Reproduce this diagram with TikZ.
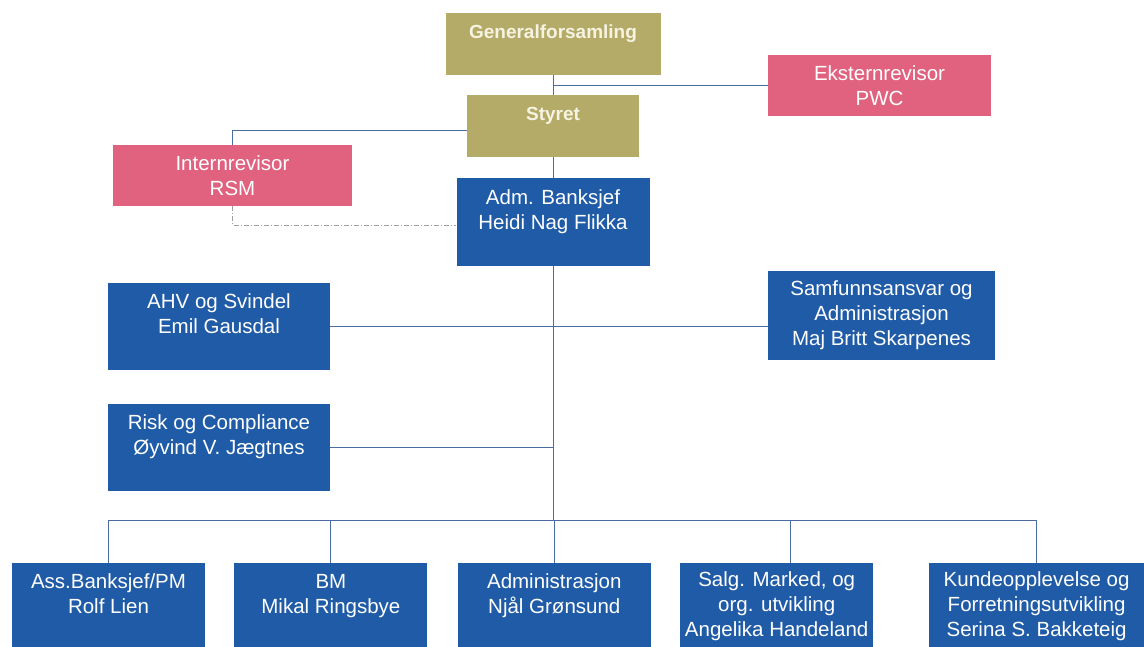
\documentclass[tikz,border=0pt]{standalone}
\usepackage{fontspec}
\setmainfont{Liberation Sans}
\usetikzlibrary{positioning}
\definecolor{gfolive}{RGB}{180,171,104}
\definecolor{revpink}{RGB}{224,98,127}
\definecolor{bankblue}{RGB}{31,91,166}
\definecolor{linkblue}{RGB}{74,108,160}
\definecolor{cream}{RGB}{246,243,226}

\begin{document}
\begin{tikzpicture}[x=1pt,y=-1pt,
    orgbox/.style={rectangle, align=center, text=white, inner sep=0pt, font=\fontsize{20.5}{25}\selectfont},
    board/.style={orgbox, fill=gfolive, text=cream, minimum height=62pt, font=\bfseries\fontsize{19}{25}\selectfont},
    auditor/.style={orgbox, fill=revpink, minimum height=61pt},
    unit/.style={orgbox, fill=bankblue, minimum width=193pt, minimum height=87pt},
    link/.style={draw=linkblue, line width=1pt},
    dotlink/.style={draw=gray!75, line width=1pt, dash pattern=on 5pt off 2pt on 1pt off 2pt}]
        \useasboundingbox (0,0) rectangle (1144,646);

        %% Board level
        \node[board, minimum width=215pt] (gen) at (553,44) {Generalforsamling\\~};
        \node[board, minimum width=172pt] (styret) at (553,126) {Styret\\~};
        \node[auditor, minimum width=223pt] (ekstern) at (879.5,85.5) {Eksternrevisor\\PWC};
        \node[auditor, minimum width=239pt] (intern) at (232.5,175.5) {Internrevisor\\RSM};

        %% Management
        \node[unit, minimum height=88pt] (adm) at (553,222) {Adm. Banksjef\\Heidi Nag Flikka\\~};
        \node[unit, minimum width=222pt] (ahv) at (219,326) {AHV og Svindel\\Emil Gausdal\\~};
        \node[unit, minimum width=222pt, below=34pt of ahv] (risk) {Risk og Compliance\\Øyvind V. Jægtnes\\~};
        \node[unit, minimum width=227pt, minimum height=89pt] (samf) at (881.5,315.5) {Samfunnsansvar og\\Administrasjon\\Maj Britt Skarpenes};

        %% Bottom row
        \node[unit] (b1) at (108.5,606.5) {Ass.Banksjef/PM\\Rolf Lien\\~};
        \node[unit, right=29pt of b1] (b2) {BM\\Mikal Ringsbye\\~};
        \node[unit, right=30pt of b2] (b3) {Administrasjon\\Njål Grønsund\\~};
        \node[unit, right=29pt of b3] (b4) {Salg. Marked, og\\org. utvikling\\Angelika Handeland};
        \node[unit, minimum width=216pt, right=55pt of b4] (b5) {Kundeopplevelse og\\Forretningsutvikling\\Serina S. Bakketeig};

        \coordinate (bus) at (adm.south |- 0,520);

        %% Connectors
        \draw[link] (gen) -- (styret);
        \draw[link] (ekstern.west) -- (ekstern.west -| gen.south);
        \draw[link] ([yshift=-4pt]styret.west) -| (intern.north);
        \draw[link] (styret) -- (adm);
        \draw[dotlink] (intern.south) |- ([yshift=-3pt]adm.west);
        \draw[link] (adm.south) -- (bus);
        \draw[link] (ahv.east) -- (ahv.east -| samf.west);
        \draw[link] (risk.east) -- (risk.east -| bus);
        \draw[link] (b1.north) -- (b1.north |- bus) -- (b5.north |- bus) -- (b5.north);
        \foreach \n in {b2,b3}
            \draw[link] (\n.north) -- (\n.north |- bus);
        \draw[link] ([xshift=14pt]b4.north) -- ([xshift=14pt]b4.north |- bus);
    \end{tikzpicture}
\end{document}
